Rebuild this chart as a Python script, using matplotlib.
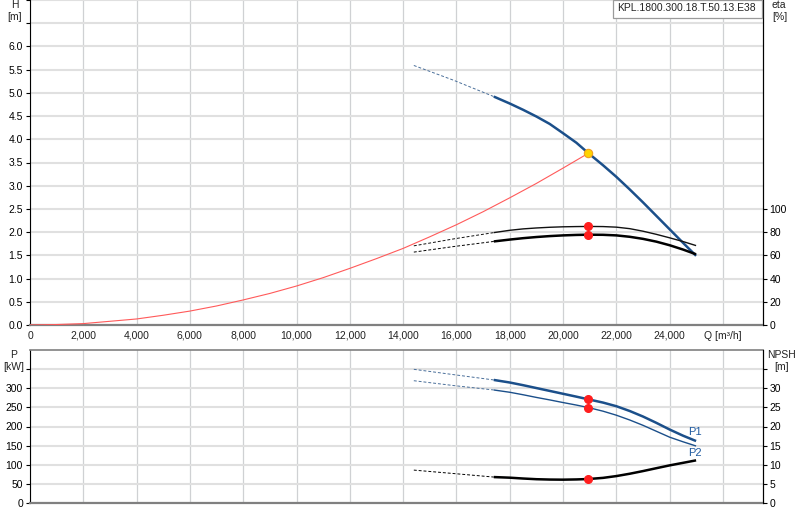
import matplotlib

matplotlib.use("Agg")
import matplotlib.pyplot as plt
import numpy as np
from matplotlib.patches import Rectangle

plt.rcParams['font.family'] = ['Liberation Sans', 'DejaVu Sans']
plt.rcParams['font.size'] = 7.5

# --- data ---
Q_MIN = 17400      # start of the solid (allowed) range
Q_DUTY = 20950     # duty point flow
MODEL = "KPL.1800.300.18.T.50.13.E38"

# flow points shared by all pump curves [m³/h]
q_pump = [14400, 15900, 17400, 18000, 18500, 19000, 19500, 20000, 20500, 20950,
          21500, 22000, 22500, 23000, 23500, 24000, 24500, 24990]

# head H [m]
h_m = [5.59, 5.27, 4.92, 4.77, 4.635, 4.49, 4.33, 4.13, 3.925, 3.70,
       3.44, 3.19, 2.92, 2.64, 2.35, 2.06, 1.77, 1.49]

# efficiencies [%]
eta_1 = [68.2, 74.2, 79.6, 81.6, 82.8, 83.6, 84.2, 84.6, 84.8, 84.9,
         84.8, 84.3, 83.0, 80.8, 78.1, 75.1, 71.9, 68.4]
eta_2 = [62.8, 67.6, 72.0, 73.6, 74.8, 75.8, 76.6, 77.2, 77.6, 77.8,
         77.7, 77.2, 76.0, 74.2, 71.8, 68.7, 65.0, 60.9]

# power [kW]
p1 = [349.5, 335.5, 321.7, 315.0, 308.0, 300.5, 293.0, 285.5, 278.0, 271.0,
      262.5, 253.0, 240.5, 226.0, 209.5, 192.0, 176.0, 162.0]
p2 = [319.7, 307.0, 295.5, 289.5, 283.0, 276.0, 269.5, 262.6, 256.0, 249.5,
      240.0, 229.5, 217.0, 203.0, 187.5, 172.0, 160.0, 149.0]

# NPSH [m]
npsh = [8.6, 7.7, 6.78, 6.62, 6.40, 6.22, 6.13, 6.10, 6.16, 6.27,
        6.57, 7.04, 7.65, 8.35, 9.10, 9.84, 10.50, 11.15]

# system curve H [m]
q_sys = [0, 1000, 2000, 3000, 4000, 5000, 6000, 7000, 8000, 9000, 10000,
         11000, 12000, 13000, 14000, 15000, 16000, 17000, 18000, 19000, 20000, 20950]
h_sys = [0.0, 0.01, 0.03, 0.08, 0.13, 0.21, 0.30, 0.41, 0.54, 0.68, 0.84,
         1.02, 1.22, 1.43, 1.65, 1.90, 2.16, 2.44, 2.74, 3.05, 3.38, 3.70]

I_DUTY = q_pump.index(Q_DUTY)

BLUE = "#1b4f8a"
DASH_BLUE = "#4a6f9a"
GRID_V = "#cfd1d3"
GRID_H = "#e0e0e0"
W, H = 800, 520


def curve(ax, y, color, lw, dash_color=None):
    q = np.asarray(q_pump, float)
    y = np.asarray(y, float)
    dash = q <= Q_MIN
    solid = q >= Q_MIN
    ax.plot(q[dash], y[dash], color=dash_color or color, lw=0.7,
            ls=(0, (3, 2)), zorder=3)
    ax.plot(q[solid], y[solid], color=color, lw=lw, solid_capstyle="butt",
            solid_joinstyle="round", zorder=4)


def duty(ax, ys):
    ax.plot([Q_DUTY] * len(ys), ys, "o", ms=5.5, color="#ff1e1e", ls="none", zorder=6)


def style_axes(ax, ylim, yticks, ylabel_max, fmt):
    ax.set_xlim(0, 27500)
    ax.set_ylim(*ylim)
    ax.set_xticks(np.arange(0, 26001, 2000))
    ax.set_yticks(yticks)
    ax.set_yticklabels([fmt(v) if v <= ylabel_max else "" for v in yticks])
    ax.grid(axis="x", color=GRID_V, lw=0.9)
    ax.grid(axis="y", color=GRID_H, lw=1.5)
    ax.set_axisbelow(True)
    ax.spines["top"].set_visible(False)
    ax.spines["left"].set_color("black")
    ax.spines["bottom"].set_color("#808080")
    ax.spines["bottom"].set_linewidth(1.6)
    ax.tick_params(axis="y", length=3, pad=2, colors="black", width=0.8)
    ax.tick_params(axis="x", length=0, pad=4, colors="#222222")


def right_axis(ax, ylim, yticks, ylabel_max):
    ax2 = ax.twinx()
    ax2.set_ylim(*ylim)
    ax2.set_yticks(yticks)
    ax2.set_yticklabels([f"{v:g}" if v <= ylabel_max else "" for v in yticks])
    for side in ("top", "bottom", "left"):
        ax2.spines[side].set_visible(False)
    ax2.spines["right"].set_color("black")
    ax2.tick_params(axis="y", length=3, pad=1.5, colors="black", width=0.8)
    return ax2


fig = plt.figure(figsize=(W / 100, H / 100), dpi=100)

# ---------------- top: head / efficiency ----------------
ax = fig.add_axes([30 / W, 195 / H, 733 / W, 325 / H])
style_axes(ax, (0, 7), np.arange(0, 7.01, 0.5), 6.0, lambda v: f"{v:.1f}")
xlabels = [f"{v:,}" for v in range(0, 26001, 2000)]
xlabels[-1] = "Q [m³/h]"
ax.set_xticklabels(xlabels)

ax.plot(q_sys, h_sys, color="#ff5a5a", lw=0.8, zorder=3)
curve(ax, h_m, BLUE, 1.8, dash_color=DASH_BLUE)
ax.plot([Q_DUTY], [h_m[I_DUTY]], "o", ms=6, mfc="#ffd400", mec="#f0a020",
        mew=0.8, zorder=6)

ax_eta = right_axis(ax, (0, 280), np.arange(0, 101, 20), 100)
curve(ax_eta, eta_1, "#111111", 1.0)
curve(ax_eta, eta_2, "black", 1.8)
duty(ax_eta, [eta_1[I_DUTY], eta_2[I_DUTY]])

# ---------------- bottom: power / NPSH ----------------
axp = fig.add_axes([30 / W, 17 / H, 733 / W, 153 / H])
style_axes(axp, (0, 400), np.arange(0, 351, 50), 300, lambda v: f"{v:.0f}")
axp.spines["top"].set_visible(True)
axp.spines["top"].set_color("#808080")
axp.spines["top"].set_linewidth(1.2)
axp.set_xticklabels([])

curve(axp, p1, BLUE, 1.8, dash_color=DASH_BLUE)
curve(axp, p2, BLUE, 1.0, dash_color=DASH_BLUE)
duty(axp, [p1[I_DUTY], p2[I_DUTY]])
axp.text(q_pump[-1] - 50, p1[-1] + 23, "P1", color="#1f5aa0", fontsize=8,
         ha="center", va="center")
axp.text(q_pump[-1] - 50, p2[-1] - 17, "P2", color="#1f5aa0", fontsize=8,
         ha="center", va="center")

ax_n = right_axis(axp, (0, 40), np.arange(0, 36, 5), 30)
curve(ax_n, npsh, "black", 1.8)
duty(ax_n, [npsh[I_DUTY]])


# ---------------- axis captions ----------------
def ftext(x, y, s, ha="center"):
    fig.text(x / W, 1 - y / H, s, ha=ha, va="center", fontsize=7.5, color="#222222")


ftext(15, 5, "H")
ftext(15, 17, "[m]")
ftext(772, 5, "eta", ha="left")
ftext(772, 17, "[%]", ha="left")
ftext(14, 355, "P")
ftext(14, 367, "[kW]")
ftext(767, 355, "NPSH", ha="left")
ftext(774, 367, "[m]", ha="left")

# model name box
fig.patches.append(Rectangle((613 / W, 1 - 18 / H), 149 / W, 18 / H,
                             transform=fig.transFigure, fc="white",
                             ec="#9a9a9a", lw=0.9, zorder=10))
fig.text(617 / W, 1 - 8 / H, MODEL, ha="left", va="center", fontsize=7.5,
         color="#222222", zorder=11)

fig.savefig("out.png", dpi=100)
